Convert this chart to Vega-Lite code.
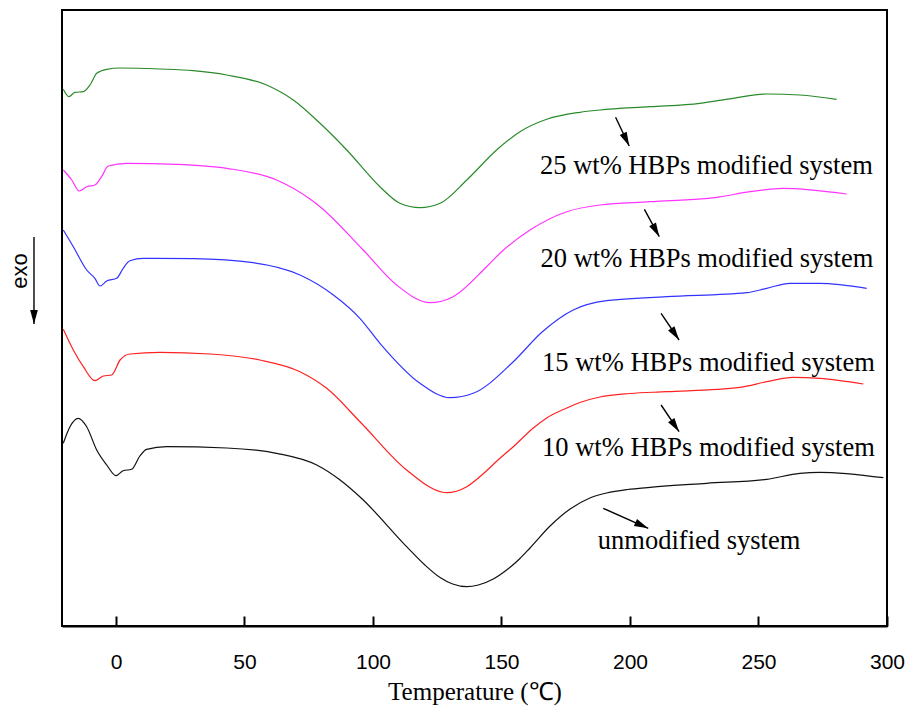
{
  "$schema": "https://vega.github.io/schema/vega-lite/v6.json",
  "width": 825,
  "height": 616,
  "autosize": {"type": "none"},
  "padding": {"left": 62, "top": 10, "right": 29, "bottom": 87},
  "background": "white",
  "config": {"view": {"stroke": "black", "strokeWidth": 2}},
  "datasets": {
    "curves": [
      {"s": "25", "T": -20.5, "V": 536.7}, {"s": "25", "T": -18.3, "V": 529.3}, {"s": "25", "T": -16.0, "V": 533.7}, {"s": "25", "T": -12.7, "V": 534.3}, {"s": "25", "T": -10.1, "V": 541}, {"s": "25", "T": -7.5, "V": 552.7}, {"s": "25", "T": -3.6, "V": 556.7}, {"s": "25", "T": 1.6, "V": 558}, {"s": "25", "T": 17.1, "V": 557}, {"s": "25", "T": 30.1, "V": 555.3}, {"s": "25", "T": 43.1, "V": 551}, {"s": "25", "T": 58.6, "V": 541}, {"s": "25", "T": 69.0, "V": 526}, {"s": "25", "T": 79.4, "V": 502.7}, {"s": "25", "T": 89.8, "V": 476}, {"s": "25", "T": 102.7, "V": 439.3}, {"s": "25", "T": 110.5, "V": 422.7}, {"s": "25", "T": 118.3, "V": 418.3}, {"s": "25", "T": 126.1, "V": 422.7}, {"s": "25", "T": 136.5, "V": 446}, {"s": "25", "T": 148.1, "V": 476}, {"s": "25", "T": 157.2, "V": 494.3}, {"s": "25", "T": 167.6, "V": 506.7}, {"s": "25", "T": 180.5, "V": 513.7}, {"s": "25", "T": 188.3, "V": 516}, {"s": "25", "T": 207.8, "V": 519.3}, {"s": "25", "T": 227.2, "V": 522.7}, {"s": "25", "T": 240.1, "V": 527.7}, {"s": "25", "T": 253.2, "V": 532}, {"s": "25", "T": 266.1, "V": 531}, {"s": "25", "T": 280.4, "V": 526.7},
      {"s": "20", "T": -20.5, "V": 456}, {"s": "20", "T": -17.2, "V": 446}, {"s": "20", "T": -14.3, "V": 435}, {"s": "20", "T": -11.4, "V": 439.3}, {"s": "20", "T": -8.2, "V": 441}, {"s": "20", "T": -5.6, "V": 449.3}, {"s": "20", "T": -3.0, "V": 460}, {"s": "20", "T": 4.2, "V": 462.7}, {"s": "20", "T": 23.6, "V": 461.7}, {"s": "20", "T": 43.1, "V": 457.7}, {"s": "20", "T": 62.5, "V": 446}, {"s": "20", "T": 75.5, "V": 427}, {"s": "20", "T": 79.4, "V": 419.3}, {"s": "20", "T": 96.2, "V": 376}, {"s": "20", "T": 109.2, "V": 341}, {"s": "20", "T": 122.2, "V": 323.3}, {"s": "20", "T": 131.2, "V": 329.3}, {"s": "20", "T": 144.2, "V": 359.3}, {"s": "20", "T": 149.4, "V": 372.7}, {"s": "20", "T": 161.1, "V": 396}, {"s": "20", "T": 175.4, "V": 414.3}, {"s": "20", "T": 188.3, "V": 421}, {"s": "20", "T": 207.8, "V": 424.3}, {"s": "20", "T": 233.7, "V": 428.7}, {"s": "20", "T": 246.7, "V": 434.3}, {"s": "20", "T": 259.6, "V": 437.7}, {"s": "20", "T": 284.3, "V": 432},
      {"s": "15", "T": -20.5, "V": 396}, {"s": "15", "T": -16.6, "V": 379.3}, {"s": "15", "T": -11.4, "V": 356}, {"s": "15", "T": -8.2, "V": 347.7}, {"s": "15", "T": -6.2, "V": 340}, {"s": "15", "T": -3.6, "V": 345}, {"s": "15", "T": 0.3, "V": 347.7}, {"s": "15", "T": 2.8, "V": 357.7}, {"s": "15", "T": 5.4, "V": 365.3}, {"s": "15", "T": 10.6, "V": 367.7}, {"s": "15", "T": 30.1, "V": 367.3}, {"s": "15", "T": 53.4, "V": 363.3}, {"s": "15", "T": 71.6, "V": 351}, {"s": "15", "T": 84.6, "V": 331}, {"s": "15", "T": 94.9, "V": 307.7}, {"s": "15", "T": 102.7, "V": 282.7}, {"s": "15", "T": 118.3, "V": 242.7}, {"s": "15", "T": 130.0, "V": 228.3}, {"s": "15", "T": 139.0, "V": 232.7}, {"s": "15", "T": 154.6, "V": 264.3}, {"s": "15", "T": 165.8, "V": 294}, {"s": "15", "T": 177.9, "V": 316}, {"s": "15", "T": 190.9, "V": 325.3}, {"s": "15", "T": 214.3, "V": 329.3}, {"s": "15", "T": 245.4, "V": 333.3}, {"s": "15", "T": 253.2, "V": 337.7}, {"s": "15", "T": 262.3, "V": 342.7}, {"s": "15", "T": 273.9, "V": 342.7}, {"s": "15", "T": 292.1, "V": 337.7},
      {"s": "10", "T": -20.5, "V": 296.7}, {"s": "10", "T": -16.6, "V": 276}, {"s": "10", "T": -12.7, "V": 259.3}, {"s": "10", "T": -8.2, "V": 245.3}, {"s": "10", "T": -4.9, "V": 250}, {"s": "10", "T": -1.7, "V": 251}, {"s": "10", "T": 1.6, "V": 266}, {"s": "10", "T": 5.4, "V": 272}, {"s": "10", "T": 17.1, "V": 273.7}, {"s": "10", "T": 36.6, "V": 272}, {"s": "10", "T": 56.0, "V": 266}, {"s": "10", "T": 71.6, "V": 254.3}, {"s": "10", "T": 82.0, "V": 237.7}, {"s": "10", "T": 95.4, "V": 203}, {"s": "10", "T": 113.1, "V": 156}, {"s": "10", "T": 128.7, "V": 133.3}, {"s": "10", "T": 136.5, "V": 139.3}, {"s": "10", "T": 143.0, "V": 152.5}, {"s": "10", "T": 149.4, "V": 167.7}, {"s": "10", "T": 154.6, "V": 179.3}, {"s": "10", "T": 162.4, "V": 198}, {"s": "10", "T": 167.6, "V": 208}, {"s": "10", "T": 175.4, "V": 218}, {"s": "10", "T": 180.5, "V": 223.5}, {"s": "10", "T": 188.3, "V": 229}, {"s": "10", "T": 200.0, "V": 232.5}, {"s": "10", "T": 214.3, "V": 234.3}, {"s": "10", "T": 242.8, "V": 238.7}, {"s": "10", "T": 253.2, "V": 244.3}, {"s": "10", "T": 263.5, "V": 248.7}, {"s": "10", "T": 273.9, "V": 247.7}, {"s": "10", "T": 290.8, "V": 242},
      {"s": "0", "T": -20.5, "V": 182.7}, {"s": "0", "T": -17.9, "V": 199.3}, {"s": "0", "T": -14.7, "V": 207.7}, {"s": "0", "T": -11.4, "V": 199.3}, {"s": "0", "T": -7.5, "V": 176}, {"s": "0", "T": -3.6, "V": 161}, {"s": "0", "T": 0, "V": 150.3}, {"s": "0", "T": 2.8, "V": 155.3}, {"s": "0", "T": 6.1, "V": 156.7}, {"s": "0", "T": 9.3, "V": 170}, {"s": "0", "T": 11.9, "V": 176.7}, {"s": "0", "T": 19.7, "V": 179.3}, {"s": "0", "T": 43.1, "V": 178}, {"s": "0", "T": 62.5, "V": 172.7}, {"s": "0", "T": 78.1, "V": 161}, {"s": "0", "T": 87.2, "V": 146}, {"s": "0", "T": 95.4, "V": 128}, {"s": "0", "T": 113.1, "V": 79.3}, {"s": "0", "T": 120.2, "V": 61}, {"s": "0", "T": 126.1, "V": 48.5}, {"s": "0", "T": 131.0, "V": 42}, {"s": "0", "T": 136.5, "V": 39.3}, {"s": "0", "T": 141.0, "V": 41}, {"s": "0", "T": 146.8, "V": 47}, {"s": "0", "T": 152.0, "V": 56}, {"s": "0", "T": 157.0, "V": 67}, {"s": "0", "T": 161.1, "V": 78}, {"s": "0", "T": 168.9, "V": 100}, {"s": "0", "T": 176.7, "V": 117}, {"s": "0", "T": 184.4, "V": 128}, {"s": "0", "T": 190.9, "V": 133}, {"s": "0", "T": 199.0, "V": 136.5}, {"s": "0", "T": 207.8, "V": 138.7}, {"s": "0", "T": 229.8, "V": 142.7}, {"s": "0", "T": 253.2, "V": 146.7}, {"s": "0", "T": 266.1, "V": 152.7}, {"s": "0", "T": 273.9, "V": 153.7}, {"s": "0", "T": 298.6, "V": 148.3}
    ],
    "labels": [
      {"text": "25 wt% HBPs modified system", "T": 165.0, "V": 452},
      {"text": "20 wt% HBPs modified system", "T": 165.2, "V": 359.3},
      {"text": "15 wt% HBPs modified system", "T": 165.8, "V": 255.3},
      {"text": "10 wt% HBPs modified system", "T": 165.8, "V": 170.3},
      {"text": "unmodified system", "T": 187.5, "V": 77}
    ],
    "arrows": [
      {"T": 194.4, "V": 508.7, "T2": 199.7, "V2": 480, "angle": 154.6},
      {"T": 205.6, "V": 416.7, "T2": 211.4, "V2": 389.3, "angle": 151.3},
      {"T": 212.1, "V": 312.7, "T2": 219.1, "V2": 286, "angle": 146},
      {"T": 212.1, "V": 221, "T2": 219.1, "V2": 194.3, "angle": 146},
      {"T": 189.6, "V": 117.7, "T2": 207.1, "V2": 97.7, "angle": 114},
      {"T": -31.9, "V": 389, "T2": -31.9, "V2": 302, "angle": 180}
    ],
    "notes": [
      {"text": "exo", "T": -37.35, "V": 355}
    ]
  },
  "layer": [
    {
      "data": {"name": "curves"},
      "mark": {"type": "line", "interpolate": "monotone", "strokeWidth": 1.2, "clip": true},
      "encoding": {
        "x": {
          "field": "T", "type": "quantitative",
          "scale": {"domain": [-21, 300], "nice": false, "zero": false},
          "axis": {
            "values": [0, 50, 100, 150, 200, 250, 300],
            "format": "d",
            "grid": false,
            "tickSize": -10,
            "tickWidth": 2,
            "tickColor": "black",
            "domainColor": "black",
            "domainWidth": 2,
            "labelFont": "Liberation Sans",
            "labelFontSize": 21,
            "labelColor": "black",
            "labelFlush": false,
            "labelBaseline": "alphabetic",
            "labelPadding": 52,
            "title": "Temperature (℃)",
            "titleFont": "Liberation Serif",
            "titleFontSize": 25,
            "titleFontWeight": "normal",
            "titleColor": "black",
            "titleBaseline": "alphabetic",
            "titleY": 73
          }
        },
        "y": {
          "field": "V", "type": "quantitative",
          "scale": {"domain": [0, 616], "nice": false, "zero": false},
          "axis": null
        },
        "color": {
          "field": "s", "type": "nominal",
          "scale": {"domain": ["25", "20", "15", "10", "0"], "range": ["#2a8a2a", "#ff33ff", "#3333ff", "#ff2222", "#111111"]},
          "legend": null
        }
      }
    },
    {
      "data": {"name": "labels"},
      "mark": {"type": "text", "font": "Liberation Serif", "fontSize": 26.5, "align": "left", "baseline": "alphabetic", "color": "black"},
      "encoding": {
        "x": {"field": "T", "type": "quantitative"},
        "y": {"field": "V", "type": "quantitative"},
        "text": {"field": "text", "type": "nominal"}
      }
    },
    {
      "data": {"name": "arrows"},
      "mark": {"type": "rule", "strokeWidth": 1.4, "color": "black"},
      "encoding": {
        "x": {"field": "T", "type": "quantitative"},
        "y": {"field": "V", "type": "quantitative"},
        "x2": {"field": "T2"},
        "y2": {"field": "V2"}
      }
    },
    {
      "data": {"name": "arrows"},
      "mark": {"type": "point", "shape": "M0,0L-0.55,2L0.55,2Z", "filled": true, "size": 196, "color": "black", "opacity": 1},
      "encoding": {
        "x": {"field": "T2", "type": "quantitative"},
        "y": {"field": "V2", "type": "quantitative"},
        "angle": {"field": "angle", "type": "quantitative", "scale": null}
      }
    },
    {
      "data": {"name": "notes"},
      "mark": {"type": "text", "font": "Liberation Sans", "fontSize": 22, "align": "center", "baseline": "middle", "angle": 270, "color": "black"},
      "encoding": {
        "x": {"field": "T", "type": "quantitative"},
        "y": {"field": "V", "type": "quantitative"},
        "text": {"field": "text", "type": "nominal"}
      }
    }
  ]
}
